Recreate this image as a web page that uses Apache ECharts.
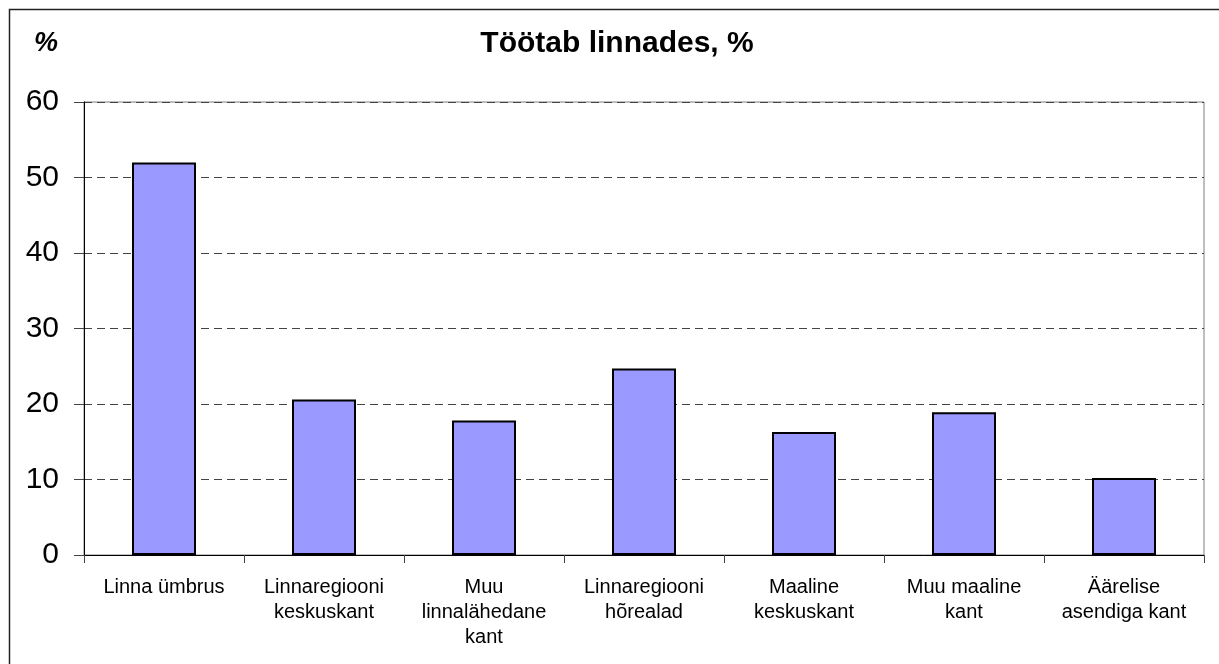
<!DOCTYPE html>
<html>
<head>
<meta charset="utf-8">
<script src="https://cdn.jsdelivr.net/npm/echarts@6/dist/echarts.min.js"></script>
<style>
html,body{margin:0;padding:0;background:#fff;}
#chart{width:1219px;height:664px;}
</style>
</head>
<body>
<div id="chart"></div>
<script>
const categories = [
  'Linna ümbrus',
  'Linnaregiooni\nkeskuskant',
  'Muu\nlinnalähedane\nkant',
  'Linnaregiooni\nhõrealad',
  'Maaline\nkeskuskant',
  'Muu maaline\nkant',
  'Äärelise\nasendiga kant'
];
const values = [52.0, 20.6, 17.8, 24.7, 16.3, 18.9, 10.2];
const titleText = 'Töötab linnades, %';
const unitText = '%';

const chart = echarts.init(document.getElementById('chart'));
const FONT = '"Liberation Sans", Arial, sans-serif';
chart.setOption({
  animation: false,
  backgroundColor: '#fff',
  grid: { left: 84, right: 15, top: 102, bottom: 109, show: true, borderColor: '#808080', borderWidth: 1 },
  graphic: [
    { type: 'rect', shape: { x: 9.5, y: 9.5, width: 1230, height: 680 }, style: { fill: 'none', stroke: '#222', lineWidth: 1.5 }, silent: true },
    { type: 'text', x: 46, y: 44, style: { text: unitText, font: 'italic bold 27px ' + FONT, fill: '#000', align: 'center', verticalAlign: 'middle' } },
    { type: 'text', x: 617, y: 44, style: { text: titleText, font: 'bold 30px ' + FONT, fill: '#000', align: 'center', verticalAlign: 'middle' } }
  ],
  xAxis: {
    type: 'category',
    data: categories,
    axisLine: { show: true, lineStyle: { color: '#000', width: 1 } },
    axisTick: { show: true, length: 8, lineStyle: { color: '#444' } },
    axisLabel: { interval: 0, margin: 20, fontFamily: FONT, fontSize: 20, lineHeight: 25, color: '#000', align: 'center' },
    splitLine: { show: false }
  },
  yAxis: {
    type: 'value',
    min: 0, max: 60, interval: 10,
    axisLine: { show: true, lineStyle: { color: '#000', width: 1 } },
    axisTick: { show: true, length: 10, lineStyle: { color: '#444' } },
    axisLabel: { margin: 25, fontFamily: FONT, fontSize: 30, color: '#000' },
    splitLine: { show: true, lineStyle: { color: '#444', type: [8, 5], width: 1 } }
  },
  series: [{
    type: 'bar',
    data: values,
    barWidth: '40%',
    itemStyle: { color: '#9999FF', borderColor: '#000', borderWidth: 2 }
  }]
});
</script>
</body>
</html>
